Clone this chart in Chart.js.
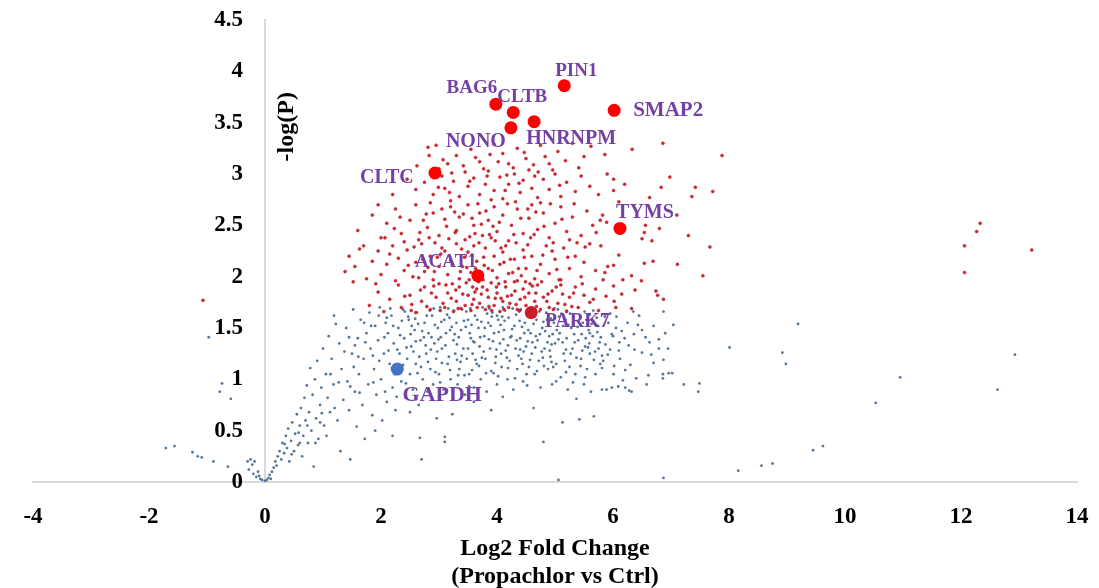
<!DOCTYPE html>
<html>
<head>
<meta charset="utf-8">
<script src="https://cdn.jsdelivr.net/npm/chart.js@4/dist/chart.umd.min.js"></script>
<style>
  html, body { margin: 0; padding: 0; background: #fff; }
  #wrap { width: 1099px; height: 588px; }
</style>
</head>
<body>
<div id="wrap"><canvas id="volcano"></canvas></div>
<script>
// Axis ticks
const xTicks = [-4, -2, 0, 2, 4, 6, 8, 10, 12, 14];
const yTicks = [0, 0.5, 1, 1.5, 2, 2.5, 3, 3.5, 4, 4.5];

// Significant proteins (red cloud), [log2FC, -log(P)]
const upPoints = [
  [2.95,3.28],[3.3,3.18],[3.55,3.24],[3.7,3.12],[3.95,3.29],[4.1,3.2],[4.35,3.25],[4.5,3.15],[4.75,3.28],[4.9,3.1],
  [5.05,3.22],[5.3,3.3],[5.5,3.17],[5.62,3.27],[5.86,3.19],[6.33,3.24],[6.86,3.30],[7.88,3.18],[3.15,3.1],[4.2,3.1],
  [2.81,3.26],[2.83,3.18],
  [2.45,2.95],[2.6,2.85],[2.75,2.92],[2.9,2.8],[3.05,2.98],[3.1,2.86],[3.25,2.93],[3.35,2.78],[3.45,3.02],[3.5,2.88],
  [3.6,2.96],[3.7,2.8],[3.8,2.9],[3.85,3.03],[3.95,2.84],[4.05,2.97],[4.1,2.76],[4.2,2.9],[4.3,3.0],[4.4,2.82],
  [4.45,2.94],[4.55,3.04],[4.6,2.86],[4.7,2.77],[4.8,2.95],[4.9,2.85],[5.0,3.0],[5.1,2.78],[5.2,2.92],[5.35,2.83],
  [5.45,2.98],[5.6,2.88],[5.75,2.8],[5.9,3.0],[6.01,2.95],[6.01,2.84],[6.2,2.9],[6.63,2.77],[6.83,2.87],[6.98,2.97],
  [7.36,2.78],[7.42,2.87],[7.72,2.83],[3.2,2.74],[3.9,2.75],[4.65,2.98],[2.2,2.8],[3.0,3.05],
  [1.6,2.45],[1.85,2.6],[2.0,2.38],[2.1,2.52],[2.25,2.66],[2.35,2.42],[2.5,2.55],[2.6,2.7],[2.65,2.36],[2.8,2.48],
  [2.9,2.62],[3.0,2.4],[3.1,2.56],[3.2,2.68],[3.3,2.45],[3.35,2.58],[3.45,2.36],[3.5,2.7],[3.6,2.5],[3.7,2.62],
  [3.75,2.4],[3.85,2.55],[3.95,2.68],[4.0,2.44],[4.1,2.6],[4.2,2.35],[4.25,2.5],[4.35,2.66],[4.45,2.42],[4.55,2.57],
  [4.6,2.7],[4.7,2.46],[4.8,2.62],[4.9,2.38],[5.0,2.52],[5.1,2.68],[5.2,2.44],[5.3,2.58],[5.45,2.4],[5.55,2.64],
  [5.65,2.5],[5.78,2.55],[5.82,2.6],[5.89,2.53],[6.1,2.73],[6.5,2.37],[6.54,2.43],[6.56,2.5],[6.67,2.35],[6.8,2.47],
  [7.1,2.6],[7.3,2.4],[1.95,2.7],[2.4,2.34],[3.05,2.66],[3.9,2.38],[4.75,2.72],[5.25,2.36],[2.85,2.72],[3.62,2.42],
  [1.38,2.05],[1.45,2.2],[1.55,2.1],[1.7,2.3],[1.75,1.98],[1.85,2.15],[1.95,2.25],[2.0,2.02],[2.1,2.12],[2.2,2.3],
  [2.25,1.96],[2.3,2.18],[2.4,2.06],[2.45,2.26],[2.55,2.0],[2.6,2.14],[2.7,2.32],[2.75,2.05],[2.85,2.2],[2.9,1.97],
  [3.0,2.1],[3.05,2.28],[3.15,2.02],[3.2,2.16],[3.3,2.32],[3.35,1.98],[3.4,2.1],[3.5,2.24],[3.55,2.04],[3.65,2.15],
  [3.72,1.97],[3.8,2.28],[3.85,2.08],[3.95,2.2],[4.0,1.99],[4.05,2.12],[4.15,2.3],[4.2,2.03],[4.3,2.17],[4.35,1.96],
  [4.45,2.26],[4.5,2.08],[4.6,2.2],[4.65,1.98],[4.75,2.12],[4.85,2.3],[4.9,2.03],[5.0,2.17],[5.1,1.97],[5.15,2.28],
  [5.25,2.08],[5.35,2.2],[5.45,2.0],[5.5,2.14],[5.6,2.32],[5.7,2.06],[5.79,2.3],[5.86,2.04],[5.91,2.10],[6.01,2.11],
  [6.10,2.21],[6.32,2.01],[6.54,2.13],[6.69,2.15],[7.11,2.12],[7.55,2.01],[7.67,2.29],[5.83,1.97],[6.17,1.97],[6.49,1.96],
  [2.15,2.22],[3.1,2.25],[4.1,2.24],[4.95,2.25],[3.6,2.3],[2.65,1.99],
  [1.8,1.72],[1.95,1.85],[2.05,1.66],[2.15,1.78],[2.3,1.92],[2.35,1.7],[2.5,1.82],[2.6,1.65],[2.7,1.76],[2.75,1.9],
  [2.85,1.68],[2.95,1.8],[3.0,1.93],[3.1,1.7],[3.15,1.84],[3.25,1.66],[3.3,1.76],[3.35,1.9],[3.45,1.72],[3.5,1.82],
  [3.55,1.67],[3.6,1.78],[3.65,1.88],[3.7,1.74],[3.75,1.9],[3.8,1.68],[3.85,1.8],[3.9,1.94],[3.95,1.72],[4.0,1.84],
  [4.05,1.66],[4.1,1.76],[4.15,1.9],[4.2,1.7],[4.25,1.82],[4.3,1.95],[4.35,1.68],[4.4,1.78],[4.45,1.88],[4.5,1.72],
  [4.55,1.84],[4.65,1.76],[4.7,1.92],[4.75,1.68],[4.8,1.8],[4.9,1.7],[4.95,1.86],[5.05,1.74],[5.1,1.92],[5.2,1.66],
  [5.25,1.8],[5.35,1.9],[5.4,1.7],[5.5,1.82],[5.6,1.75],[5.7,1.88],[5.75,1.67],[6.01,1.91],[6.15,1.83],[5.88,1.81],
  [6.02,1.76],[6.05,1.70],[6.32,1.69],[6.38,1.87],[6.74,1.86],[6.77,1.82],[6.87,1.78],[-1.07,1.77],[3.62,1.85],[3.68,1.95],
  [3.58,1.9],[4.62,1.69],[4.55,1.65],
  [3.42,3.08],[3.63,3.16],[3.77,3.05],[4.02,3.12],[4.28,3.06],[4.47,3.21],[4.63,3.09],[4.83,3.17],[3.22,3.01],[3.88,3.19],
  [4.17,2.99],[4.96,3.04],[5.18,3.13],[3.53,2.93],[2.62,3.08],[3.07,3.14],[4.38,2.91],[4.71,3.02],[5.41,3.06],[2.99,2.87],
  [2.23,2.47],[2.57,2.29],[2.78,2.61],[2.93,2.33],[3.13,2.49],[3.27,2.63],[3.39,2.27],[3.57,2.57],[3.69,2.33],[3.81,2.64],
  [3.93,2.49],[4.07,2.28],[4.18,2.71],[4.29,2.41],[4.41,2.57],[4.53,2.31],[4.67,2.63],[4.81,2.49],[4.97,2.33],[5.12,2.56],
  [5.33,2.71],[5.52,2.29],[5.71,2.43],[2.47,2.11],[2.67,2.43],[2.97,2.19],[3.17,2.37],[3.44,2.19],[3.78,2.11],[3.97,2.35],
  [4.23,2.17],[4.42,2.01],[4.58,2.38],[4.79,2.21],[5.03,2.07],[5.22,2.19],[5.38,2.33],[1.63,2.27],[1.91,1.93],[2.07,2.38],
  [2.33,2.58],[1.52,1.95],[2.53,1.73],[2.87,1.84],[3.07,1.74],[3.23,1.93],[3.41,1.83],[3.52,1.97],[3.73,1.83],[3.86,1.71],
  [4.03,1.93],[4.18,1.81],[4.33,1.73],[4.49,1.95],[4.67,1.84],[4.86,1.76],[5.02,1.9],[5.29,1.71],[5.47,1.93],[5.66,1.78],
  [4.12,1.68],[3.33,1.69],[2.41,1.81],[3.97,1.79],[4.61,1.91],[5.13,1.83],[3.48,2.09],[3.87,2.41],[4.37,2.08],[2.81,2.09],
  [2.52,1.67],[2.68,1.87],[2.79,1.71],[2.91,1.91],[3.02,1.67],[3.12,1.92],[3.21,1.79],[3.29,1.87],[3.38,1.69],[3.47,1.94],
  [3.57,1.73],[3.66,1.7],[3.76,1.97],[3.83,1.87],[3.91,1.67],[3.99,1.9],[4.07,1.79],[4.14,1.95],[4.22,1.74],[4.31,1.86],
  [4.39,1.67],[4.48,1.8],[4.57,1.93],[4.68,1.71],[4.77,1.95],[4.88,1.83],[4.97,1.68],[5.07,1.97],[5.17,1.73],[5.32,1.84],
  [3.37,2.05],[3.57,2.21],[3.63,2.08],[3.77,2.19],[3.92,2.06],[4.12,2.14],[4.27,2.04],[4.47,2.19],[4.69,2.06],[2.72,2.17],
  [2.92,2.05],[3.23,2.12],[3.03,2.22],[3.28,2.43],[3.53,2.39],[3.73,2.51],[4.04,2.53],[4.33,2.33],[4.64,2.41],[2.83,2.38],
  [3.18,2.82],[3.67,2.71],[4.14,2.84],[4.53,2.66],[4.92,2.71],[3.42,2.61],[3.83,2.98],[4.32,2.73],[2.73,2.55],[5.08,2.89],
  [12.33,2.52],[12.27,2.44],[12.06,2.30],[12.06,2.04],[13.22,2.26]
];

// Non-significant proteins (grey-blue cloud)
const nsPoints = [
  [-0.25,0.22],[-0.22,0.17],[-0.28,0.12],[-0.2,0.08],[-0.15,0.05],[-0.12,0.1],[-0.08,0.03],[-0.05,0.02],[0.0,0.01],[0.03,0.02],
  [0.06,0.04],[-0.18,0.2],[-0.1,0.06],[0.08,0.07],[0.12,0.1],[0.15,0.14],[0.18,0.2],[0.2,0.16],[0.1,0.03],[-0.3,0.2],
  [-1.71,0.33],[-1.56,0.35],[-1.25,0.29],[-1.16,0.25],[-1.09,0.24],[-0.89,0.20],[-0.64,0.15],[-0.97,1.41],[-0.74,0.96],[-0.78,0.88],[-0.59,0.81],
  [0.22,0.25],[0.25,0.3],[0.28,0.22],[0.3,0.38],[0.33,0.28],[0.36,0.45],[0.38,0.33],[0.4,0.52],[0.42,0.2],[0.45,0.4],
  [0.47,0.58],[0.5,0.3],[0.52,0.47],[0.55,0.66],[0.57,0.36],[0.6,0.55],[0.62,0.72],[0.64,0.25],[0.66,0.45],[0.68,0.82],
  [0.7,0.6],[0.72,0.94],[0.74,0.38],[0.76,0.68],[0.78,1.11],[0.8,0.5],[0.82,0.85],[0.84,0.15],[0.86,1.0],[0.88,0.62],
  [0.9,1.18],[0.92,0.42],[0.95,0.75],[0.97,0.92],[1.0,1.3],[1.02,0.55],[1.05,1.05],[1.06,0.45],[1.08,0.82],[1.1,1.42],
  [1.12,0.68],[1.15,1.2],[1.18,0.95],[1.19,1.62],[1.22,1.54],[1.25,0.6],[1.28,1.35],[1.3,0.3],[1.32,1.1],[1.35,0.8],
  [1.4,1.5],[1.42,0.98],[1.45,0.7],[1.47,0.22],[1.5,1.25],[1.52,1.68],[1.55,0.88],[1.58,0.54],[1.6,1.4],[1.62,1.05],
  [1.65,1.58],[1.68,0.75],[1.7,1.2],[1.72,0.42],[1.75,1.45],[1.78,0.95],[1.8,1.65],[1.82,1.3],[1.85,0.65],[1.88,1.1],
  [1.9,1.52],[1.92,0.85],[1.95,1.38],[1.98,1.7],[2.0,1.0],[2.02,0.6],[2.05,1.25],[2.08,1.55],[2.1,0.78],[2.12,1.45],
  [2.15,1.15],[2.18,1.62],[2.2,0.92],[2.22,1.35],[2.25,0.7],[2.3,1.5],[2.32,1.25],[2.35,0.98],[2.38,1.68],[2.4,1.4],
  [2.42,0.82],[2.45,1.2],[2.48,1.58],[2.5,1.05],[2.52,1.32],[2.55,0.9],[2.58,1.48],[2.6,1.15],[2.62,1.65],[2.65,0.75],
  [2.67,0.43],[2.68,1.38],[2.7,0.22],[2.72,1.0],[2.75,1.55],[2.78,1.25],[2.8,0.88],[2.82,1.45],[2.85,1.1],[2.88,1.62],
  [2.9,0.95],[2.92,1.35],[2.95,1.2],[2.96,0.62],[2.98,1.5],[3.0,1.05],[3.02,1.7],[3.05,1.3],[3.08,0.9],[3.1,0.44],
  [3.1,0.39],[3.12,1.45],[3.15,1.15],[3.18,1.6],[3.2,1.0],[3.23,0.66],[3.25,1.38],[3.28,1.25],[3.3,1.55],[3.32,0.95],
  [3.35,1.1],[3.38,1.48],[3.4,1.68],[3.42,1.3],[3.45,0.85],[3.48,1.2],
  [3.5,1.58],[3.52,1.05],[3.55,1.4],[3.58,1.25],[3.6,0.92],[3.62,1.62],[3.65,1.15],[3.68,1.5],[3.7,1.32],[3.72,1.0],
  [3.75,1.7],[3.78,1.42],[3.8,1.2],[3.82,0.88],[3.85,1.55],[3.88,1.3],[3.9,1.08],[3.92,1.65],[3.95,1.45],[3.98,1.22],
  [4.0,0.95],[4.02,1.58],[4.05,1.35],[4.08,1.12],[4.1,1.7],[4.12,1.48],[4.15,1.28],[4.18,1.0],[4.2,1.6],[4.22,1.18],
  [4.25,1.42],[4.28,0.9],[4.3,1.52],[4.32,1.3],[4.35,1.1],[4.38,1.66],[4.4,1.4],[4.42,1.2],[4.45,0.98],[4.48,1.55],
  [4.5,1.32],[4.52,1.62],[4.55,1.12],[4.58,1.45],[4.6,1.25],[4.63,0.72],[4.65,1.05],[4.68,1.58],[4.7,1.38],[4.72,1.18],
  [4.75,0.92],[4.78,1.5],[4.8,0.39],[4.82,1.3],[4.85,1.65],[4.88,1.1],[4.9,1.42],[4.92,1.22],[4.95,0.95],[4.98,1.55],
  [5.0,1.35],[5.02,1.15],[5.05,1.68],[5.06,0.02],[5.08,1.45],[5.1,1.02],[5.13,0.58],[5.15,1.25],[5.18,1.58],[5.2,1.4],
  [5.22,0.9],[5.25,1.12],[5.28,1.5],[5.3,1.3],[5.32,1.62],[5.35,1.05],[5.37,0.81],[5.4,1.38],[5.42,0.61],[5.45,1.2],
  [5.48,1.55],[5.5,0.95],[5.52,1.32],[5.55,1.1],[5.58,1.48],[5.6,1.25],[5.62,0.88],[5.65,1.42],[5.67,0.64],[5.7,1.05],
  [5.72,1.6],[5.75,1.3],[5.78,1.15],
  [5.92,1.55],[5.98,1.44],[6.00,1.42],[6.11,1.36],[6.36,1.44],[6.63,1.36],[6.79,1.39],[6.79,1.30],[6.37,1.29],[6.50,1.26],
  [6.87,1.19],[6.70,1.16],[6.30,1.14],[6.12,1.20],[6.10,1.28],[5.91,1.24],[5.81,1.23],[5.83,1.18],[6.02,1.13],[6.21,1.09],
  [5.81,1.11],[6.01,1.05],[6.17,0.99],[6.40,1.01],[6.61,1.04],[6.86,1.05],[6.86,1.01],[6.96,1.06],[7.02,1.06],[7.22,0.95],
  [7.49,0.96],[7.47,0.88],[6.58,0.95],[5.81,0.90],[5.89,0.90],[5.98,0.92],[6.09,0.93],[6.21,0.92],[6.28,0.89],[6.32,0.88],
  [6.87,1.66],[7.04,1.53],
  [2.33,1.43],[2.47,1.61],[2.56,1.27],[2.71,1.47],[2.84,1.67],[2.93,1.53],[3.03,1.41],[3.14,1.63],[3.22,1.51],[3.31,1.34],
  [3.43,1.57],[3.53,1.45],[3.61,1.36],[3.73,1.56],[3.83,1.64],[3.93,1.37],[4.03,1.46],[4.13,1.57],[4.23,1.41],[4.33,1.63],
  [4.43,1.51],[4.53,1.37],[4.63,1.54],[4.73,1.66],[4.83,1.47],[4.93,1.59],[5.03,1.48],[5.13,1.36],[5.23,1.53],[5.33,1.44],
  [5.43,1.61],[5.53,1.4],[5.63,1.54],[5.73,1.46],[5.87,1.34],[2.38,1.14],[2.63,1.06],[2.77,1.33],[2.97,1.27],[3.17,1.22],
  [3.37,1.17],[3.57,1.09],[3.77,1.27],[3.97,1.16],[4.17,1.21],[4.37,1.23],[4.57,1.19],[4.77,1.27],[4.97,1.12],[5.17,1.18],
  [5.37,1.21],[5.57,1.31],[5.77,1.36],[3.09,1.58],[3.47,1.66],[3.89,1.52],[4.27,1.69],[4.67,1.42],[5.07,1.61],[5.47,1.28],
  [2.53,1.52],[2.87,1.41],[3.27,1.44],[3.63,1.19],[4.07,1.25],[4.47,1.45],[4.87,1.36],[5.27,1.25],[5.67,1.19],[3.33,1.04],
  [3.71,1.41],[4.11,1.39],[4.51,1.05],[4.91,1.28],[2.27,1.08],[2.43,0.96],[2.13,1.28],[1.97,1.18],[1.73,1.36],[1.53,1.12],
  [1.37,1.27],[1.63,0.87],[1.87,0.97],[2.07,0.88],[2.27,0.83],[1.47,0.93],[1.27,0.97],[1.13,1.05],[0.98,0.67],[0.87,0.38],
  [0.73,0.55],[0.58,0.48],[0.46,0.27],[0.34,0.37],[0.6,0.38],[0.95,0.58],[1.2,0.72],[1.55,1.33],[1.83,1.52],[2.1,1.6],
  [2.36,1.57],[2.6,1.37],[3.05,1.16],[3.5,1.3],[4.0,1.62],[4.4,1.29],[4.8,1.56],[5.2,1.67],[5.6,1.63],[5.95,1.64],
  [6.25,1.55],[6.45,1.62],[6.2,1.4],[6.5,1.48],[6.7,1.52],[6.05,1.5],[3.6,0.78],[4.1,0.83],[2.5,0.68],[3.9,0.7],
  [1.9,0.5],[2.2,0.45],
  [2.41,1.66],[2.51,1.44],[2.59,1.59],[2.66,1.22],[2.74,1.41],[2.79,1.62],[2.86,1.29],[2.91,1.69],[2.99,1.39],[3.04,1.56],
  [3.11,1.33],[3.19,1.48],[3.26,1.67],[3.34,1.41],[3.39,1.23],[3.46,1.51],[3.54,1.69],[3.59,1.37],[3.66,1.58],[3.74,1.21],
  [3.79,1.5],[3.86,1.39],[3.91,1.61],[3.99,1.29],[4.06,1.53],[4.14,1.67],[4.19,1.33],[4.26,1.49],[4.34,1.38],[4.39,1.57],
  [4.46,1.27],[4.54,1.48],[4.59,1.63],[4.66,1.31],[4.74,1.44],[4.79,1.21],[4.86,1.58],[4.94,1.34],[4.99,1.69],[5.06,1.39],
  [5.14,1.52],[5.19,1.29],[5.26,1.64],[5.34,1.36],[5.39,1.51],[5.46,1.44],[5.54,1.58],[5.59,1.35],[5.66,1.67],[5.74,1.52],
  [5.79,1.41],[5.86,1.61],[2.44,1.31],[2.69,1.12],[2.94,1.07],[3.19,1.09],[3.44,1.04],[3.69,1.13],[3.94,1.06],[4.19,1.11],
  [4.44,1.15],[4.69,1.08],[4.94,1.17],[5.19,1.07],[5.44,1.13],[5.69,1.27],[3.02,0.97],[3.52,0.93],[4.02,1.03],[4.52,0.94],
  [5.02,0.98],[5.52,1.02],[2.81,1.17],[3.31,1.19],[3.81,1.06],[4.31,1.01],[4.81,1.13],[5.31,0.97],[2.21,1.52],[2.06,1.41],
  [1.96,1.62],[2.16,1.69],[2.28,1.29],[1.86,1.23],[1.71,1.55],[1.61,1.22],[1.45,1.41],[2.24,1.05],[3.87,1.69],[4.41,1.68],
  [4.96,1.44],[5.51,1.66],[3.16,1.69],[2.64,1.54],[3.56,1.53],[4.09,1.61],[4.61,1.36],[5.11,1.64],[5.6,1.45],[5.95,1.29],
  [6.06,1.61],[6.15,1.47],[6.27,1.33],[6.43,1.53],[6.56,1.41],[6.66,1.24],[6.35,1.66],[6.9,1.45],[6.95,1.3],
  [12.93,1.24],[12.63,0.90],[10.95,1.02],[10.53,0.77],[9.19,1.54],[8.92,1.26],[8.98,1.15],[8.01,1.31],[9.62,0.35],[9.45,0.31],
  [8.75,0.18],[8.56,0.16],[8.16,0.11],[6.87,0.04]
];

// Highlighted proteins
const geneNames = ['PIN1', 'BAG6', 'CLTB', 'HNRNPM', 'NONO', 'SMAP2', 'CLTC', 'TYMS', 'ACAT1', 'PARK7', 'GAPDH'];
const geneFC    = [5.16, 3.98, 4.28, 4.64, 4.24, 6.02, 2.93, 6.12, 3.67, 4.59, 2.28];
const geneLogP  = [3.86, 3.68, 3.60, 3.51, 3.45, 3.62, 3.01, 2.47, 2.01, 1.65, 1.10];

const toXY = arr => arr.map(p => ({ x: p[0], y: p[1] }));

const highlightColors = geneNames.map(g => g === 'GAPDH' ? '#4472c4' : (g === 'PARK7' ? '#c81e2a' : '#ff0000'));

// label placement relative to the point (px offsets, alignment, font size)
const labelPlace = {
  PIN1:   [12, -15, 'center', 19],
  BAG6:   [-24, -16, 'center', 19],
  CLTB:   [9, -15, 'center', 19],
  HNRNPM: [37, 17, 'center', 20],
  NONO:   [-35, 14, 'center', 20],
  SMAP2:  [19, 0, 'left', 21],
  CLTC:   [-48, 5, 'center', 20],
  TYMS:   [25, -16, 'center', 20],
  ACAT1:  [-32, -14, 'center', 19],
  PARK7:  [46, 9, 'center', 20],
  GAPDH:  [45, 26, 'center', 22]
};

const serif = "'Liberation Serif', 'DejaVu Serif', serif";
const tickFont = 'bold 23px ' + serif;

const annotatePlugin = {
  id: 'annotate',
  afterDatasetsDraw(chart) {
    const ctx = chart.ctx;
    const xs = chart.scales.x, ys = chart.scales.y;
    const x0 = xs.getPixelForValue(0);

    // y tick labels, right-aligned left of the axis line at x = 0
    ctx.save();
    ctx.fillStyle = '#000';
    ctx.font = tickFont;
    ctx.textAlign = 'right';
    ctx.textBaseline = 'middle';
    yTicks.forEach(v => ctx.fillText(String(v), x0 - 22, ys.getPixelForValue(v)));
    ctx.restore();

    // y axis title, rotated, right of the axis line
    ctx.save();
    ctx.fillStyle = '#000';
    ctx.font = 'bold 24px ' + serif;
    ctx.translate(x0 + 22, ys.getPixelForValue(3.46));
    ctx.rotate(-Math.PI / 2);
    ctx.textAlign = 'center';
    ctx.textBaseline = 'middle';
    ctx.fillText('-log(P)', 0, 0);
    ctx.restore();

    ctx.save();
    ctx.fillStyle = '#7440a6';
    ctx.textBaseline = 'middle';
    geneNames.forEach((g, i) => {
      const p = labelPlace[g];
      const px = xs.getPixelForValue(geneFC[i]);
      const py = ys.getPixelForValue(geneLogP[i]);
      ctx.font = 'bold ' + p[3] + 'px ' + serif;
      ctx.textAlign = p[2];
      ctx.fillText(g, px + p[0], py + p[1]);
    });
    ctx.restore();

    // x axis title (two lines)
    ctx.save();
    ctx.fillStyle = '#000';
    ctx.font = 'bold 24px ' + serif;
    ctx.textAlign = 'center';
    ctx.textBaseline = 'middle';
    const cx = (chart.chartArea.left + chart.chartArea.right) / 2;
    ctx.fillText('Log2 Fold Change', cx, chart.chartArea.bottom + 67);
    ctx.fillText('(Propachlor vs Ctrl)', cx, chart.chartArea.bottom + 95);
    ctx.restore();
  }
};

new Chart(document.getElementById('volcano'), {
  type: 'scatter',
  data: {
    datasets: [
      {
        label: 'highlighted',
        data: geneNames.map((g, i) => ({ x: geneFC[i], y: geneLogP[i] })),
        pointRadius: 6.5,
        pointBackgroundColor: highlightColors,
        pointBorderWidth: 0,
        order: 0
      },
      {
        label: 'significant',
        data: toXY(upPoints),
        pointRadius: 1.5,
        pointBackgroundColor: '#d8262f',
        pointBorderColor: '#a8202a',
        pointBorderWidth: 0.5,
        order: 1
      },
      {
        label: 'ns',
        data: toXY(nsPoints),
        pointRadius: 1.4,
        pointBackgroundColor: '#55789a',
        pointBorderWidth: 0,
        order: 2
      }
    ]
  },
  options: {
    responsive: true,
    maintainAspectRatio: false,
    animation: false,
    events: [],
    layout: { padding: { left: 33, right: 22, top: 20, bottom: 0 } },
    plugins: {
      legend: { display: false },
      tooltip: { enabled: false }
    },
    scales: {
      x: {
        type: 'linear',
        min: xTicks[0],
        max: xTicks[xTicks.length - 1],
        afterBuildTicks(scale) { scale.ticks = xTicks.map(v => ({ value: v })); },
        afterFit(scale) { scale.height = 106; },
        grid: { display: false, drawTicks: true, tickLength: 21 },
        border: { color: '#d9d9d9', width: 2 },
        ticks: {
          padding: 0,
          color: '#000',
          font: { family: serif, size: 23, weight: 'bold' }
        }
      },
      y: {
        type: 'linear',
        position: { x: 0 },
        min: yTicks[0],
        max: yTicks[yTicks.length - 1],
        afterFit(scale) { scale.width = 0; },
        grid: { display: false, drawTicks: false },
        border: { color: '#d9d9d9', width: 2 },
        ticks: { display: false }
      }
    }
  },
  plugins: [annotatePlugin]
});
</script>
</body>
</html>
